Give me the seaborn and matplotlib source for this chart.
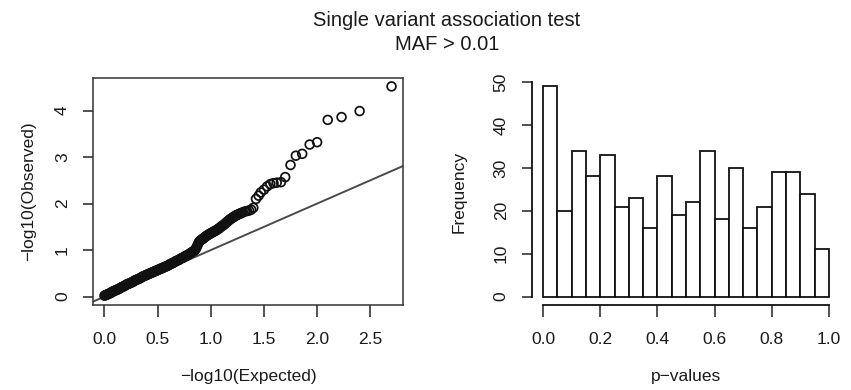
import numpy as np
import pandas as pd
import matplotlib
matplotlib.use("Agg")
import matplotlib.pyplot as plt
import seaborn as sns

# ---------------- data ----------------
# QQ plot, dense band: expected vs observed -log10(p), read along the band
band_expected = [
    0.00, 0.01, 0.02, 0.03, 0.04, 0.05, 0.06, 0.07, 0.08, 0.09,
    0.10, 0.11, 0.12, 0.13, 0.14, 0.15, 0.16, 0.17, 0.18, 0.19,
    0.20, 0.21, 0.22, 0.23, 0.24, 0.25, 0.26, 0.27, 0.28, 0.29,
    0.30, 0.31, 0.32, 0.33, 0.34, 0.35, 0.36, 0.37, 0.38, 0.39,
    0.40, 0.41, 0.42, 0.43, 0.44, 0.45, 0.46, 0.47, 0.48, 0.49,
    0.50, 0.51, 0.52, 0.53, 0.54, 0.55, 0.56, 0.57, 0.58, 0.59,
    0.60, 0.61, 0.62, 0.63, 0.64, 0.65, 0.66, 0.67, 0.68, 0.69,
    0.70, 0.71, 0.72, 0.73, 0.74, 0.75, 0.76, 0.77, 0.78, 0.79,
    0.80, 0.81, 0.82, 0.83, 0.84, 0.85, 0.86, 0.87, 0.88, 0.89,
    0.90, 0.91, 0.92, 0.93, 0.94, 0.95, 0.96, 0.97, 0.98, 0.99,
    1.00, 1.01, 1.02, 1.03, 1.04, 1.05, 1.06, 1.07, 1.08, 1.09,
    1.10, 1.11, 1.12, 1.13, 1.14, 1.15, 1.16, 1.17, 1.18, 1.19,
    1.20, 1.21, 1.22, 1.23, 1.24, 1.25, 1.26, 1.27, 1.28, 1.29,
    1.30, 1.32, 1.34, 1.36, 1.38]
band_observed = [
    0.02, 0.03, 0.04, 0.05, 0.06, 0.07, 0.08, 0.10, 0.11, 0.12,
    0.13, 0.14, 0.15, 0.16, 0.17, 0.19, 0.20, 0.21, 0.22, 0.23,
    0.25, 0.26, 0.27, 0.28, 0.29, 0.30, 0.31, 0.32, 0.34, 0.35,
    0.36, 0.37, 0.38, 0.39, 0.40, 0.42, 0.43, 0.44, 0.45, 0.46,
    0.47, 0.48, 0.49, 0.50, 0.51, 0.52, 0.53, 0.54, 0.55, 0.56,
    0.57, 0.58, 0.59, 0.60, 0.61, 0.62, 0.63, 0.64, 0.65, 0.66,
    0.67, 0.685, 0.70, 0.71, 0.72, 0.73, 0.745, 0.76, 0.77, 0.78,
    0.79, 0.805, 0.82, 0.83, 0.84, 0.855, 0.87, 0.88, 0.89, 0.905,
    0.92, 0.935, 0.95, 0.965, 0.98, 1.00, 1.03, 1.08, 1.13, 1.18,
    1.20, 1.22, 1.235, 1.25, 1.27, 1.29, 1.305, 1.32, 1.335, 1.35,
    1.36, 1.375, 1.39, 1.40, 1.41, 1.425, 1.44, 1.455, 1.47, 1.49,
    1.51, 1.525, 1.54, 1.56, 1.58, 1.60, 1.62, 1.64, 1.66, 1.675,
    1.69, 1.705, 1.72, 1.735, 1.75, 1.76, 1.77, 1.78, 1.79, 1.80,
    1.81, 1.83, 1.84, 1.85, 1.87]
# QQ plot, separated points of the upper tail
tail_expected = [1.40, 1.425, 1.45, 1.47, 1.50, 1.53, 1.56, 1.59, 1.62, 1.66,
                 1.70, 1.75, 1.80, 1.86, 1.93, 2.00, 2.10, 2.23, 2.40, 2.70]
tail_observed = [1.91, 2.10, 2.17, 2.24, 2.30, 2.37, 2.42, 2.44, 2.45, 2.46,
                 2.57, 2.83, 3.03, 3.07, 3.27, 3.32, 3.80, 3.86, 3.99, 4.52]

# Histogram of p-values: 20 bins of width 0.05 starting at these edges
bin_starts = [0.00, 0.05, 0.10, 0.15, 0.20, 0.25, 0.30, 0.35, 0.40, 0.45,
              0.50, 0.55, 0.60, 0.65, 0.70, 0.75, 0.80, 0.85, 0.90, 0.95]
counts = [49, 20, 34, 28, 33, 21, 23, 16, 28, 19,
          22, 34, 18, 30, 16, 21, 29, 29, 24, 11]

qq_xticks = [0.0, 0.5, 1.0, 1.5, 2.0, 2.5]
qq_yticks = [0, 1, 2, 3, 4]
hist_xticks = [0.0, 0.2, 0.4, 0.6, 0.8, 1.0]
hist_yticks = [0, 10, 20, 30, 40, 50]

title_line1 = "Single variant association test"
title_line2 = "MAF > 0.01"

# ---------------- style ----------------
sns.set_style("ticks")
plt.rcParams["font.family"] = ["Liberation Sans", "DejaVu Sans"]
FS = 12.5
TXT = "#1a1a1a"

fig = plt.figure(figsize=(8.51, 3.90), dpi=100)
ax1 = fig.add_axes([93 / 851, 1 - 305 / 390, 310 / 851, 227 / 390])
ax2 = fig.add_axes([531.6 / 851, 1 - 305 / 390, 308.8 / 851, 227 / 390])

# ---------------- QQ plot ----------------
qq = pd.DataFrame({"expected": band_expected + tail_expected,
                   "observed": band_observed + tail_observed})
sns.scatterplot(data=qq, x="expected", y="observed", ax=ax1,
                marker="o", s=40, facecolor="none", edgecolor="#111111",
                linewidth=1.25, legend=False, zorder=3)
ax1.axline((0, 0), slope=1, color="#4a4a4a", linewidth=1.4, zorder=2)

xmax = qq["expected"].max()
ymax = qq["observed"].max()
ax1.set_xlim(-0.04 * xmax, 1.04 * xmax)
ax1.set_ylim(-0.04 * ymax, 1.04 * ymax)
ax1.set_xticks(qq_xticks)
ax1.set_xticklabels([f"{v:.1f}" for v in qq_xticks])
ax1.set_yticks(qq_yticks)
ax1.set_yticklabels([str(v) for v in qq_yticks], rotation=90, va="center")
ax1.set_xlabel("\u2212log10(Expected)", fontsize=FS, color=TXT)
ax1.set_ylabel("\u2212log10(Observed)", fontsize=FS, color=TXT)
ax1.xaxis.label.set_va("center")
ax1.yaxis.label.set_va("center")
ax1.xaxis.set_label_coords(0.5, (305 - 376) / 227)
ax1.yaxis.set_label_coords((29 - 93) / 310, 0.5)
for sp in ax1.spines.values():
    sp.set_visible(True)
    sp.set_color("#333333")
    sp.set_linewidth(1.1)

# ---------------- histogram ----------------
hist_df = pd.DataFrame({"p": [b + 0.025 for b in bin_starts], "n": counts})
sns.histplot(data=hist_df, x="p", weights="n", binwidth=0.05, binrange=(0, 1),
             ax=ax2, color="white", edgecolor="#111111", linewidth=1.3, alpha=1.0)
ax2.set_xlim(-0.04, 1.04)
ax2.set_ylim(-0.04 * max(counts), 1.04 * max(counts))
ax2.set_xticks(hist_xticks)
ax2.set_xticklabels([f"{v:.1f}" for v in hist_xticks])
ax2.set_yticks(hist_yticks)
ax2.set_yticklabels([str(v) for v in hist_yticks], rotation=90, va="center")
ax2.set_xlabel("p\u2212values", fontsize=FS, color=TXT)
ax2.set_ylabel("Frequency", fontsize=FS, color=TXT)
ax2.xaxis.label.set_va("center")
ax2.yaxis.label.set_va("center")
ax2.xaxis.set_label_coords(0.5, (305 - 376) / 227)
ax2.yaxis.set_label_coords((459 - 531.6) / 308.8, 0.5)
ax2.spines["top"].set_visible(False)
ax2.spines["right"].set_visible(False)
ax2.spines["bottom"].set_bounds(0, 1)
ax2.spines["left"].set_bounds(0, 50)
for k in ("bottom", "left"):
    ax2.spines[k].set_color("#111111")
    ax2.spines[k].set_linewidth(1.3)

for ax in (ax1, ax2):
    ax.tick_params(axis="x", which="major", length=8.5, width=1.1,
                   labelsize=FS, pad=11, color="#222222", labelcolor=TXT)
    ax.tick_params(axis="y", which="major", length=7.5, width=1.1,
                   labelsize=FS, pad=9, color="#222222", labelcolor=TXT)
    ax.grid(False)

fig.text(447 / 851, 1 - 21 / 390, title_line1, ha="center", va="center",
         fontsize=14.5, color=TXT)
fig.text(447 / 851, 1 - 44 / 390, title_line2, ha="center", va="center",
         fontsize=14.5, color=TXT)

fig.savefig("out.png", dpi=100, facecolor="white")
